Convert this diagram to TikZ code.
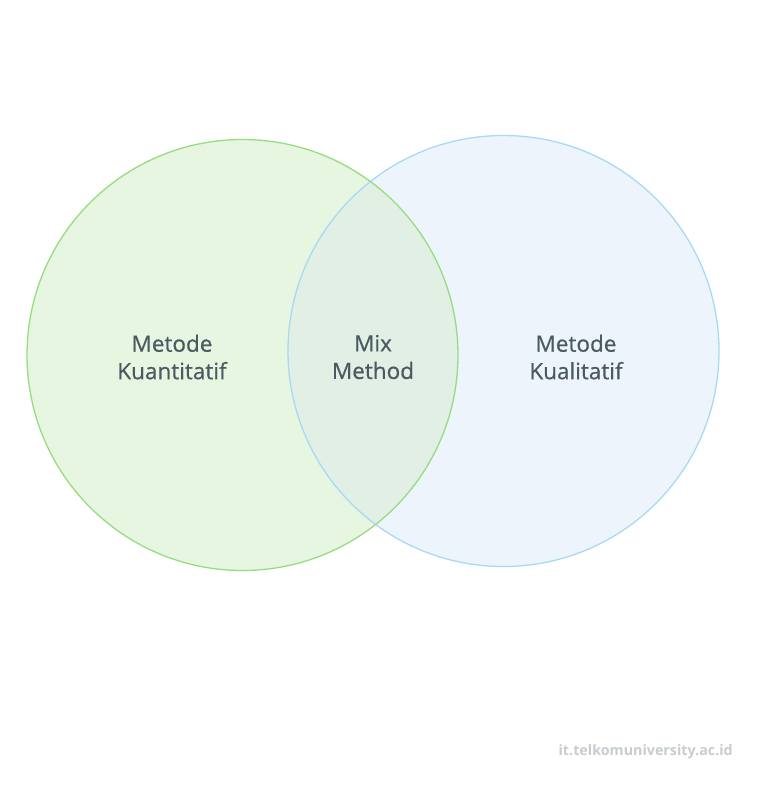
\documentclass[tikz,border=0pt]{standalone}
\usepackage{fontspec}
\setmainfont{Open Sans}
\newfontfamily\moyenne{Open Sans}[FakeBold=0.6]
\usepackage{tikz}
\usetikzlibrary{positioning}

\definecolor{vertfond}{HTML}{E6F6E0}
\definecolor{vertbord}{HTML}{98DC82}
\definecolor{bleufond}{HTML}{EEF4FB}
\definecolor{bleubord}{HTML}{A6DAF5}
\definecolor{milieufond}{HTML}{E1EFE4}
\definecolor{textegris}{HTML}{4A5A63}
\definecolor{sitegris}{HTML}{C6CCD0}

\tikzset{
  etiquette/.style={text=textegris, align=center, inner sep=0pt,
    font=\moyenne\fontsize{22.5}{27.5}\selectfont},
  bord/.style={line width=1.3pt}
}

\begin{document}
\begin{tikzpicture}[x=1pt, y=-1pt]
      \useasboundingbox (0,0) rectangle (768,801);
      \def\rayon{215.5}

      % Fonds des cercles
      \foreach \x/\y/\nom/\couleur in {503.5/351/kuali/bleufond, 242.5/355/kuanti/vertfond} {
        \coordinate (\nom) at (\x,\y);
        \fill[\couleur] (\nom) circle (\rayon);
      }

      % Zone commune
      \begin{scope}
        \clip (kuanti) circle (\rayon);
        \fill[milieufond] (kuali) circle (\rayon);
      \end{scope}

      % Contours
      \draw[bord, bleubord] (kuali) circle (\rayon);
      \draw[bord, vertbord] (kuanti) circle (\rayon);

      % Textes
      \node[etiquette] (kuantitatif) at (172,357) {Metode\\Kuantitatif};
      \node[etiquette] (mix) at (373,357) {Mix\\Method};
      \node[etiquette] (kualitatif) at (576,357) {Metode\\Kualitatif};

      \node[text=sitegris, font=\bfseries\fontsize{14.3}{16}\selectfont, anchor=east, inner sep=0pt]
        (site) at (733,752) {it.telkomuniversity.ac.id};
    \end{tikzpicture}
\end{document}
